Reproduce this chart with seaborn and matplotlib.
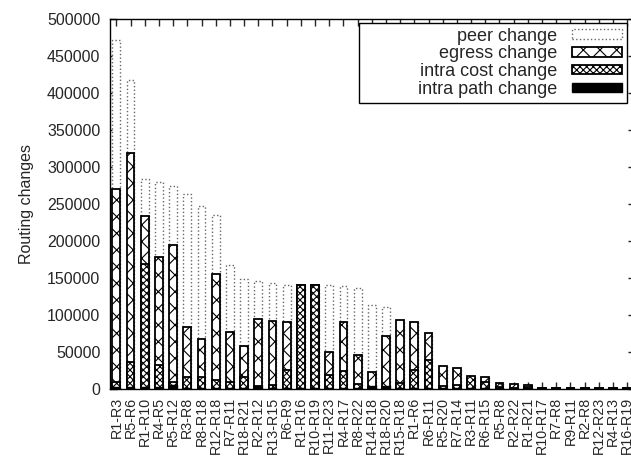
import matplotlib
matplotlib.use("Agg")
import matplotlib.pyplot as plt
import matplotlib.patches as mpatches
import seaborn as sns

# router pairs, sorted by total routing changes
pairs = ["R1-R3", "R5-R6", "R1-R10", "R4-R5", "R5-R12", "R3-R8", "R8-R18", "R12-R18",
         "R7-R11", "R18-R21", "R2-R12", "R13-R15", "R6-R9", "R1-R16", "R10-R19", "R11-R23",
         "R4-R17", "R8-R22", "R14-R18", "R18-R20", "R15-R18", "R1-R6", "R6-R11", "R5-R20",
         "R7-R14", "R3-R11", "R6-R15", "R5-R8", "R2-R22", "R1-R21", "R10-R17", "R7-R8",
         "R9-R11", "R2-R8", "R12-R23", "R4-R13", "R16-R19"]

peer_change = [472000, 418000, 284000, 280000, 274000, 264000, 247000, 235000,
               168000, 148000, 146000, 143000, 141000, 141000, 141000, 141000,
               139000, 136000, 114000, 111000, 93000, 91000, 76000, 31000,
               28000, 17000, 16000, 8000, 6500, 5500, 1000, 1000,
               1000, 1000, 1000, 1000, 1000]
egress_change = [271000, 319000, 234000, 179000, 194000, 84000, 67000, 155000,
                 77000, 58000, 95000, 92000, 91000, 140000, 140000, 50000,
                 90000, 46000, 23000, 71000, 93000, 91000, 76000, 31000,
                 28000, 15000, 16000, 8000, 6500, 5500, 800, 800,
                 800, 800, 800, 800, 800]
intra_cost_change = [10000, 36500, 169000, 32000, 10000, 16000, 16000, 12500,
                     10000, 16000, 4500, 5000, 26000, 141000, 141000, 19000,
                     24000, 6000, 3000, 3000, 8000, 26000, 38500, 4000,
                     5000, 17000, 9000, 2000, 1500, 2500, 600, 600,
                     600, 600, 600, 600, 600]
intra_path_change = [3000, 2000, 2000, 2000, 5000, 1500, 1500, 1500,
                     1500, 1500, 4000, 1500, 1500, 1000, 1000, 1500,
                     1500, 1500, 4000, 4000, 1500, 1500, 1500, 1000,
                     1000, 1000, 1000, 1000, 1000, 1000, 500, 500,
                     500, 500, 500, 500, 500]

sns.set_style("white")
plt.rcParams["font.family"] = ["Liberation Sans", "DejaVu Sans"]
plt.rcParams["hatch.linewidth"] = 0.8

fig = plt.figure(figsize=(6.31, 4.57), dpi=100)
# the right edge of the frame runs past the picture, as in the original
ax = fig.add_axes([110 / 631, 0.149, 525 / 631, 0.809])

# bars are overlaid (not stacked), tallest series drawn first
series = [
    (peer_change, dict(facecolor="white", edgecolor="#666666", linestyle=":", linewidth=1.0, hatch=None)),
    (egress_change, dict(facecolor="white", edgecolor="black", linestyle="-", linewidth=1.3, hatch="xx")),
    (intra_cost_change, dict(facecolor="white", edgecolor="black", linestyle="-", linewidth=1.3, hatch="xxxxx")),
    (intra_path_change, dict(facecolor="black", edgecolor="black", linestyle="-", linewidth=1.0, hatch=None)),
]

for vals, style in series:
    n_before = len(ax.patches)
    sns.barplot(x=pairs, y=vals, order=pairs, width=0.55, errorbar=None, ax=ax)
    for p in ax.patches[n_before:]:
        p.set_facecolor(style["facecolor"])
        p.set_edgecolor(style["edgecolor"])
        p.set_linestyle(style["linestyle"])
        p.set_linewidth(style["linewidth"])
        if style["hatch"]:
            p.set_hatch(style["hatch"])

ax.set_xlim(-0.45, 36.55)
ax.set_ylim(0, 500000)
ax.set_yticks(range(0, 500001, 50000))
ax.set_yticklabels([str(v) for v in range(0, 500001, 50000)], fontsize=11.5)
ax.set_xticks(range(len(pairs)))
ax.set_xticklabels(pairs, rotation=90, fontsize=10.3)
ax.tick_params(axis="both", direction="in", length=5, width=1,
               top=True, right=True, bottom=True, left=True)
ax.tick_params(axis="y", pad=7)
ax.tick_params(axis="x", pad=6)
ax.set_xlabel("")
ax.set_ylabel("Routing changes", fontsize=11.5, labelpad=9)
for sp in ax.spines.values():
    sp.set_visible(True)
    sp.set_color("black")
    sp.set_linewidth(1)

handles = [
    mpatches.Patch(facecolor="white", edgecolor="#666666", linestyle=":", linewidth=1.0),
    mpatches.Patch(facecolor="white", edgecolor="black", linewidth=1.3, hatch="xx"),
    mpatches.Patch(facecolor="white", edgecolor="black", linewidth=1.3, hatch="xxxxx"),
    mpatches.Patch(facecolor="black", edgecolor="black", linewidth=1.0),
]
labels = ["peer change", "egress change", "intra cost change",
          "           intra path change"]
leg = ax.legend(handles, labels, loc="upper right",
                bbox_to_anchor=(627 / 631, 1 - 23 / 457), bbox_transform=fig.transFigure,
                borderaxespad=0, markerfirst=False, fontsize=13,
                handlelength=2.8, handleheight=0.4, handletextpad=0.8,
                labelspacing=0.05, borderpad=0.25, fancybox=False,
                framealpha=1, edgecolor="black")
leg.get_frame().set_linewidth(1)

fig.savefig("out.png", dpi=100)
